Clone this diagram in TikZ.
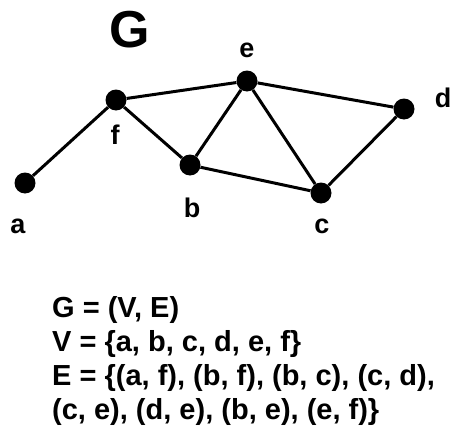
\documentclass[tikz,border=0pt]{standalone}
\usepackage{fontspec}
\setmainfont{Liberation Sans}
\tikzset{
  vertex/.style={circle, fill=black, inner sep=0pt, minimum size=21pt},
  vlabel/.style={font=\fontsize{27}{30}\selectfont\bfseries},
  edge/.style={line width=3pt}
}
\begin{document}
\begin{tikzpicture}[x=1pt, y=-1pt]
    \useasboundingbox (0,0) rectangle (451,434);

    % Titolo
    \node[font=\fontsize{52}{56}\selectfont\bfseries] (title) at (130,30) {G};

    % Vertici
    \node[vertex] (a) at (25,183) {};
    \node[vertex] (f) at (116,100) {};
    \node[vertex] (e) at (247,81) {};
    \node[vertex] (d) at (404,109) {};
    \node[vertex] (b) at (190,165) {};
    \node[vertex] (c) at (321,193) {};

    % Etichette
    \node[vlabel] (la) at (18,226) {a};
    \node[vlabel] (lf) at (115,135) {f};
    \node[vlabel] (le) at (247,50) {e};
    \node[vlabel] (ld) at (443,98) {d};
    \node[vlabel] (lb) at (192,208) {b};
    \node[vlabel] (lc) at (322,226) {c};

    % Lati
    \draw[edge] (a) -- (f);
    \draw[edge] (f) -- (e);
    \draw[edge] (f) -- (b);
    \draw[edge] (b) -- (e);
    \draw[edge] (b) -- (c);
    \draw[edge] (e) -- (c);
    \draw[edge] (e) -- (d);
    \draw[edge] (c) -- (d);

    % Definizione
    \node[anchor=west, font=\fontsize{29}{34}\selectfont\bfseries, align=left, inner sep=0pt] (def) at (52,361)
      {G = (V, E)\\
       V = \{a, b, c, d, e, f\}\\
       E = \{(a, f), (b, f), (b, c), (c, d),\\
       (c, e), (d, e), (b, e), (e, f)\}};
\end{tikzpicture}
\end{document}
